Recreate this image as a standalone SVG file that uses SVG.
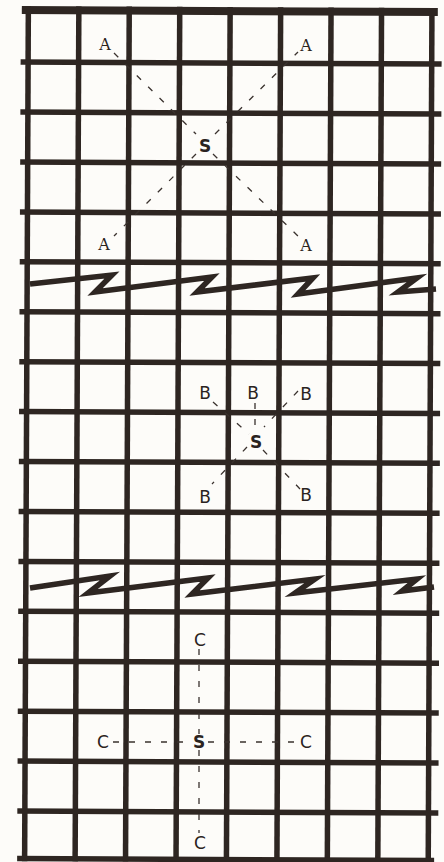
<svg xmlns="http://www.w3.org/2000/svg" width="444" height="862" viewBox="0 0 444 862">
<style>
.g{stroke:#2e2622;stroke-width:5.5;fill:none;stroke-linecap:butt}
.sq{stroke:#2e2622;stroke-width:5.5;fill:none;stroke-linejoin:miter;stroke-miterlimit:6}
.d{stroke:#3a322e;stroke-width:1.3;fill:none;stroke-dasharray:6 10}
.t{font-family:"DejaVu Sans","Liberation Sans",sans-serif;font-size:17px;fill:#2a2320;text-anchor:middle}
.a{font-family:"DejaVu Serif","Liberation Serif",serif;font-size:16px;fill:#2a2320;text-anchor:middle}
</style>
<rect width="444" height="862" fill="#fdfcf9"/>
<g id="grid" transform="rotate(0.25 222 431)">
<g class="g">
<line x1="26.5" y1="7" x2="26.5" y2="862"/>
<line x1="77" y1="7" x2="77" y2="862"/>
<line x1="127.4" y1="7" x2="127.4" y2="862"/>
<line x1="177.9" y1="7" x2="177.9" y2="862"/>
<line x1="228.3" y1="7" x2="228.3" y2="862"/>
<line x1="278.8" y1="7" x2="278.8" y2="862"/>
<line x1="329.2" y1="7" x2="329.2" y2="862"/>
<line x1="379.7" y1="7" x2="379.7" y2="862"/>
<line x1="430.1" y1="7" x2="430.1" y2="862"/>
<line x1="20" y1="11" x2="436" y2="11" stroke-width="8"/>
<line x1="19" y1="63" x2="440" y2="63"/>
<line x1="19" y1="113" x2="440" y2="113"/>
<line x1="19" y1="163" x2="440" y2="163"/>
<line x1="19" y1="213" x2="440" y2="213"/>
<line x1="19" y1="262.7" x2="440" y2="262.7"/>
<line x1="19" y1="312.7" x2="440" y2="312.7"/>
<line x1="19" y1="362.6" x2="440" y2="362.6"/>
<line x1="19" y1="412.5" x2="440" y2="412.5"/>
<line x1="19" y1="462.4" x2="440" y2="462.4"/>
<line x1="19" y1="512.4" x2="440" y2="512.4"/>
<line x1="19" y1="562.3" x2="440" y2="562.3"/>
<line x1="19" y1="612.2" x2="440" y2="612.2"/>
<line x1="19" y1="662.2" x2="440" y2="662.2"/>
<line x1="19" y1="712.1" x2="440" y2="712.1"/>
<line x1="19" y1="762" x2="440" y2="762"/>
<line x1="19" y1="812" x2="440" y2="812"/>
<line x1="19" y1="859.5" x2="436" y2="859.5"/>
</g>
</g>
<g id="breaks">
<polyline class="sq" points="30,284 112,275 95,292 212,277 197,292 313,278 298,294 417,278 398,292 436,289"/>
<polyline class="sq" points="30,588 110,576 88,593 208,578 192,594 315,579 295,593 417,579 402,591 434,587"/>
</g>
<g id="connectors" class="d">
<line x1="114" y1="53" x2="196" y2="134"/>
<line x1="215" y1="134" x2="298" y2="52"/>
<line x1="196" y1="154" x2="114" y2="236"/>
<line x1="213" y1="154" x2="299" y2="237"/>
<line x1="213" y1="402" x2="249" y2="434"/>
<line x1="255" y1="403" x2="255" y2="430"/>
<line x1="298" y1="391" x2="264" y2="427"/>
<line x1="247" y1="447" x2="212" y2="484"/>
<line x1="263" y1="450" x2="300" y2="489"/>
<line x1="199" y1="649" x2="199" y2="734"/>
<line x1="199" y1="750" x2="199" y2="833"/>
<line x1="113" y1="742" x2="191" y2="742"/>
<line x1="208" y1="742" x2="297" y2="742"/>
</g>
<g id="sectionA">
<text class="a" x="105" y="50">A</text>
<text class="a" x="306" y="51">A</text>
<text class="t" x="205" y="152" font-weight="bold">S</text>
<text class="a" x="104" y="250">A</text>
<text class="a" x="306" y="251">A</text>
</g>
<g id="sectionB">
<text class="t" x="205" y="399">B</text>
<text class="t" x="253" y="399">B</text>
<text class="t" x="306" y="400">B</text>
<text class="t" x="256" y="448" font-weight="bold">S</text>
<text class="t" x="205" y="503">B</text>
<text class="t" x="306" y="501">B</text>
</g>
<g id="sectionC">
<text class="t" x="200" y="646">C</text>
<text class="t" x="103" y="748">C</text>
<text class="t" x="199" y="748" font-weight="bold">S</text>
<text class="t" x="306" y="748">C</text>
<text class="t" x="200" y="849">C</text>
</g>
</svg>
